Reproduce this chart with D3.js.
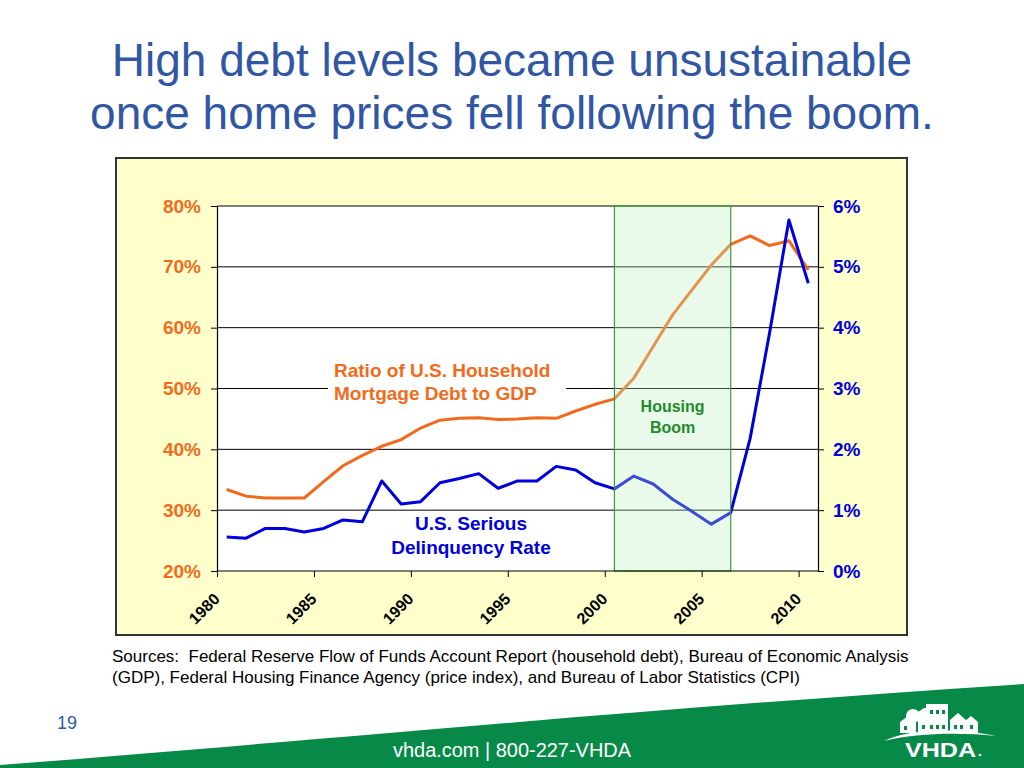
<!DOCTYPE html>
<html>
<head>
<meta charset="utf-8">
<script src="https://cdn.jsdelivr.net/npm/d3@7"></script>
<style>
  html, body { margin: 0; padding: 0; background: #fff; }
  svg { display: block; font-family: "Liberation Sans", Arial, sans-serif; }
</style>
</head>
<body>
<svg id="chart" width="1024" height="768"></svg>
<script>
// values
const years = [1980, 1981, 1982, 1983, 1984, 1985, 1986, 1987, 1988, 1989,
  1990, 1991, 1992, 1993, 1994, 1995, 1996, 1997, 1998, 1999,
  2000, 2001, 2002, 2003, 2004, 2005, 2006, 2007, 2008, 2009, 2010];
// ratio of household mortgage debt to GDP, %
const debtToGdp = [33.4, 32.3, 32.0, 32.0, 32.0, 34.7, 37.3, 39.0, 40.5, 41.6,
  43.5, 44.8, 45.1, 45.2, 44.9, 45.0, 45.2, 45.1, 46.3, 47.4,
  48.3, 51.7, 56.9, 62.1, 66.2, 70.3, 73.7, 75.1, 73.5, 74.3, 69.5];
// serious delinquency rate, %
const delinquency = [0.56, 0.54, 0.70, 0.70, 0.64, 0.70, 0.84, 0.81, 1.48, 1.10,
  1.14, 1.45, 1.52, 1.60, 1.36, 1.48, 1.48, 1.72, 1.66, 1.45,
  1.35, 1.56, 1.43, 1.18, 0.98, 0.77, 0.96, 2.18, 3.91, 5.77, 4.73];
const leftTicks = [20, 30, 40, 50, 60, 70, 80];
const rightTicks = [0, 1, 2, 3, 4, 5, 6];
const yearLabels = [1980, 1985, 1990, 1995, 2000, 2005, 2010];
const boom = [2000, 2006];

const titleLines = ['High debt levels became unsustainable', 'once home prices fell following the boom.'];
const sourceLines = [
  'Sources:  Federal Reserve Flow of Funds Account Report (household debt), Bureau of Economic Analysis',
  '(GDP), Federal Housing Finance Agency (price index), and Bureau of Labor Statistics (CPI)'
];

const orange = '#f26b1d';
const blue = '#0000dd';
const green = '#1f8a2a';

const svg = d3.select('#chart');

// title
svg.append('g').selectAll('text')
  .data(titleLines)
  .join('text')
  .attr('x', 512)
  .attr('y', (d, i) => 76 + i * 53)
  .attr('text-anchor', 'middle')
  .attr('font-size', 46)
  .attr('fill', '#3157a4')
  .text((d) => d);

// chart box
svg.append('rect')
  .attr('x', 116).attr('y', 158).attr('width', 791).attr('height', 477)
  .attr('fill', '#ffffcc').attr('stroke', '#333').attr('stroke-width', 2);

const pl = 217, pr = 818, pt = 206, pb = 571;
const x = d3.scaleLinear().domain([1979.5, 2010.5]).range([pl, pr]);
const yL = d3.scaleLinear().domain([20, 80]).range([pb, pt]);
const yR = d3.scaleLinear().domain([0, 6]).range([pb, pt]);

svg.append('rect')
  .attr('x', pl).attr('y', pt).attr('width', pr - pl).attr('height', pb - pt)
  .attr('fill', '#fff');

// gridlines
svg.append('g').selectAll('line')
  .data(leftTicks.slice(1))
  .join('line')
  .attr('x1', pl).attr('x2', pr)
  .attr('y1', (d) => yL(d)).attr('y2', (d) => yL(d))
  .attr('stroke', '#000').attr('stroke-width', 1);

// lines
const debtLine = d3.line().x((d, i) => x(years[i])).y((d) => yL(d));
const delLine = d3.line().x((d, i) => x(years[i])).y((d) => yR(d));

svg.append('path').datum(debtToGdp)
  .attr('d', debtLine).attr('fill', 'none')
  .attr('stroke', orange).attr('stroke-width', 3).attr('stroke-linejoin', 'round');
svg.append('path').datum(delinquency)
  .attr('d', delLine).attr('fill', 'none')
  .attr('stroke', blue).attr('stroke-width', 3).attr('stroke-linejoin', 'round');

// housing boom band, drawn over the lines like the slide
svg.append('rect')
  .attr('x', x(boom[0])).attr('y', pt)
  .attr('width', x(boom[1]) - x(boom[0])).attr('height', pb - pt)
  .attr('fill', 'rgb(190,240,190)').attr('fill-opacity', 0.32)
  .attr('stroke', '#3a9a3a').attr('stroke-width', 1.2);

svg.append('g').selectAll('text')
  .data(['Housing', 'Boom'])
  .join('text')
  .attr('x', (x(boom[0]) + x(boom[1])) / 2)
  .attr('y', (d, i) => 412 + i * 21)
  .attr('text-anchor', 'middle')
  .attr('font-size', 16).attr('font-weight', 'bold')
  .attr('fill', green)
  .text((d) => d);

// series labels
svg.append('rect')
  .attr('x', 328).attr('y', 358).attr('width', 238).attr('height', 48)
  .attr('fill', '#fff');
svg.append('g').selectAll('text')
  .data(['Ratio of U.S. Household', 'Mortgage Debt to GDP'])
  .join('text')
  .attr('x', 334)
  .attr('y', (d, i) => 377 + i * 23)
  .attr('font-size', 19).attr('font-weight', 'bold')
  .attr('fill', orange)
  .text((d) => d);

svg.append('g').selectAll('text')
  .data(['U.S. Serious', 'Delinquency Rate'])
  .join('text')
  .attr('x', 471)
  .attr('y', (d, i) => 530 + i * 24)
  .attr('text-anchor', 'middle')
  .attr('font-size', 19).attr('font-weight', 'bold')
  .attr('fill', blue)
  .text((d) => d);

// axes
const axL = svg.append('g').attr('transform', `translate(${pl},0)`)
  .call(d3.axisLeft(yL).tickValues(leftTicks).tickSize(6).tickPadding(10).tickFormat((d) => d + '%'));
axL.selectAll('text').attr('fill', orange).attr('font-size', 19).attr('font-weight', 'bold')
  .attr('font-family', '"Liberation Sans", Arial, sans-serif');

const axR = svg.append('g').attr('transform', `translate(${pr},0)`)
  .call(d3.axisRight(yR).tickValues(rightTicks).tickSize(6).tickPadding(9).tickFormat((d) => d + '%'));
axR.selectAll('text').attr('fill', blue).attr('font-size', 19).attr('font-weight', 'bold')
  .attr('font-family', '"Liberation Sans", Arial, sans-serif');

const axB = svg.append('g').attr('transform', `translate(0,${pb})`)
  .call(d3.axisBottom(x).tickValues(yearLabels.map((d) => d - 0.5)).tickSize(6).tickFormat(''));
axB.select('.domain').attr('d', `M${pl},0H${pr}`);

[axL, axR, axB].forEach((g) => {
  g.select('.domain').attr('stroke', '#000').attr('stroke-width', 1.2);
  g.selectAll('.tick line').attr('stroke', '#000');
});

svg.append('g').selectAll('text')
  .data(yearLabels)
  .join('text')
  .attr('transform', (d) => `translate(${x(d) - 6},600) rotate(-45)`)
  .attr('text-anchor', 'end')
  .attr('font-size', 16).attr('font-weight', 'bold')
  .attr('fill', '#000')
  .text((d) => d);

// sources
svg.append('g').selectAll('text')
  .data(sourceLines)
  .join('text')
  .attr('x', 112)
  .attr('y', (d, i) => 662 + i * 21)
  .attr('font-size', 17)
  .attr('fill', '#000')
  .style('white-space', 'pre')
  .text((d) => d);

// footer
svg.append('path')
  .attr('d', 'M0,768 L0,765 C300,742 650,708 1024,684 L1024,768 Z')
  .attr('fill', '#078a48');

svg.append('text')
  .attr('x', 57).attr('y', 729)
  .attr('font-size', 18).attr('fill', '#3157a4')
  .text('19');

svg.append('text')
  .attr('x', 393).attr('y', 757)
  .attr('font-size', 20).attr('fill', '#fff')
  .attr('textLength', 238).attr('lengthAdjust', 'spacingAndGlyphs')
  .text('vhda.com | 800-227-VHDA');

// VHDA logo
const logo = svg.append('g').attr('fill', '#fff');
logo.append('circle').attr('cx', 913).attr('cy', 716).attr('r', 7);
logo.append('path').attr('d', 'M900,733 L900,722 L908,716 L916,722 L916,733 Z');
logo.append('path').attr('d', 'M918,733 L918,712 L924,708 L926,708 L926,704 L948,704 L948,733 Z');
logo.append('path').attr('d', 'M950,733 L950,720 L958,713 L966,720 L966,733 Z');
logo.append('path').attr('d', 'M964,733 L964,722 L971,716 L978,722 L978,733 Z');
logo.append('g').attr('fill', '#078a48').selectAll('rect')
  .data([[930, 710], [936, 710], [942, 710], [922, 725], [930, 725], [936, 725], [942, 725], [954, 725], [960, 725], [970, 725], [904, 726]])
  .join('rect')
  .attr('x', (d) => d[0]).attr('y', (d) => d[1]).attr('width', 3).attr('height', 4);
logo.append('path').attr('d', 'M884,741 C910,728 960,728 996,736 C960,732 915,733 884,741 Z');
logo.append('text')
  .attr('x', 905).attr('y', 757)
  .attr('font-size', 21).attr('font-weight', 'bold')
  .attr('textLength', 71).attr('lengthAdjust', 'spacingAndGlyphs')
  .text('VHDA');
logo.append('circle').attr('cx', 980).attr('cy', 755).attr('r', 1.3);
</script>
</body>
</html>
